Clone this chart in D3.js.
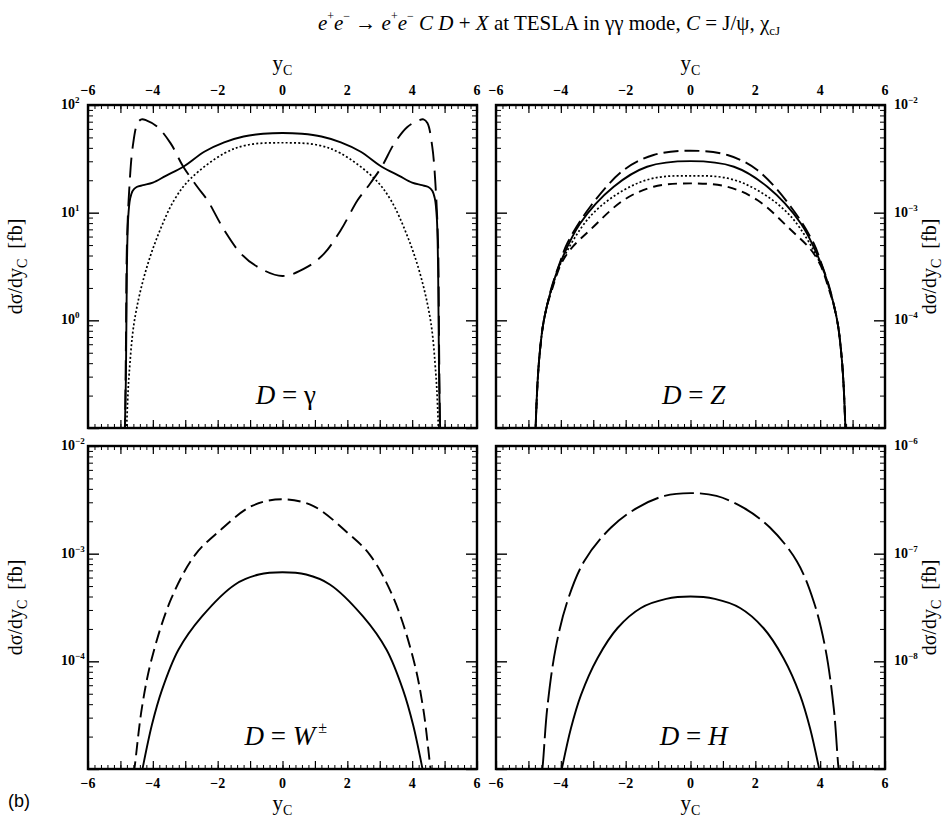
<!DOCTYPE html>
<html>
<head>
<meta charset="UTF-8">
<script src="https://cdn.jsdelivr.net/npm/d3@7"></script>
<style>
  body { margin: 0; background: #fff; }
  text { font-family: "Liberation Serif", "Times New Roman", serif; fill: #000; }
</style>
</head>
<body>
<svg id="chart" width="951" height="818"></svg>
<script>
// ---- data: [y_C, dsigma/dy_C in fb] ----
var gammaSolid = [[-4.87,0.08],[-4.83,0.3],[-4.8,3],[-4.76,9],[-4.7,13.5],[-4.62,16],[-4.5,17.3],[-4.3,18],[-4.0,19],[-3.6,22],[-3.06,26.7],[-2.4,37],[-1.8,45],[-1.2,51],[-0.6,54],[0,55],
  [0.6,54],[1.2,51],[1.8,45],[2.4,37],[3.06,26.7],[3.6,22],[4.0,19],[4.3,18],[4.5,17.3],[4.62,16],[4.7,13.5],[4.76,9],[4.8,3],[4.83,0.3],[4.87,0.08]];
var gammaDashed = [[-4.86,0.08],[-4.83,0.6],[-4.8,5],[-4.73,16],[-4.62,41],[-4.47,68],[-4.35,73.5],[-4.2,72],[-3.86,62.8],[-3.45,44],[-3.06,26.7],[-2.63,17.4],[-2.32,13.1],[-1.8,6.9],[-1.29,4.19],[-0.78,3.15],[0,2.58],
  [0.78,3.15],[1.29,4.19],[1.8,6.9],[2.32,13.1],[2.63,17.4],[3.06,26.7],[3.45,44],[3.86,62.8],[4.2,72],[4.35,73.5],[4.47,68],[4.62,41],[4.73,16],[4.8,5],[4.83,0.6],[4.86,0.08]];
var gammaDotted = [[-4.82,0.08],[-4.77,0.2],[-4.73,0.32],[-4.58,0.94],[-4.27,2.54],[-3.86,5.97],[-3.34,13.1],[-2.83,20.8],[-1.8,35.5],[-1.09,42.5],[0,44.6],
  [1.09,42.5],[1.8,35.5],[2.83,20.8],[3.34,13.1],[3.86,5.97],[4.27,2.54],[4.58,0.94],[4.73,0.32],[4.77,0.2],[4.82,0.08]];

var zSolid = [[-4.79,0.8e-5],[-4.72,2.6e-5],[-4.65,5e-5],[-4.55,9e-5],[-4.42,1.4e-4],[-4.28,2e-4],[-4.02,3.4e-4],[-3.41,7.9e-4],[-2.37,1.74e-3],[-1.34,2.67e-3],[0,3.01e-3],
  [1.34,2.67e-3],[2.37,1.74e-3],[3.41,7.9e-4],[4.02,3.4e-4],[4.28,2e-4],[4.42,1.4e-4],[4.55,9e-5],[4.65,5e-5],[4.72,2.6e-5],[4.79,0.8e-5]];
var zLongDash = [[-4.79,0.8e-5],[-4.72,2.6e-5],[-4.65,5e-5],[-4.55,9e-5],[-4.42,1.4e-4],[-4.28,2.05e-4],[-4.02,3.5e-4],[-3.8,5.2e-4],[-3.1,1.13e-3],[-2.06,2.49e-3],[-1.14,3.43e-3],[0,3.76e-3],
  [1.14,3.43e-3],[2.06,2.49e-3],[3.1,1.13e-3],[3.8,5.2e-4],[4.02,3.5e-4],[4.28,2.05e-4],[4.42,1.4e-4],[4.55,9e-5],[4.65,5e-5],[4.72,2.6e-5],[4.79,0.8e-5]];
var zDotted = [[-4.79,0.8e-5],[-4.72,2.6e-5],[-4.65,5e-5],[-4.55,9e-5],[-4.42,1.4e-4],[-4.28,1.95e-4],[-4.02,3.3e-4],[-3.1,9.2e-4],[-2.06,1.62e-3],[-1.14,2.09e-3],[0,2.2e-3],
  [1.14,2.09e-3],[2.06,1.62e-3],[3.1,9.2e-4],[4.02,3.3e-4],[4.28,1.95e-4],[4.42,1.4e-4],[4.55,9e-5],[4.65,5e-5],[4.72,2.6e-5],[4.79,0.8e-5]];
var zShortDash = [[-4.79,0.8e-5],[-4.72,2.6e-5],[-4.65,5e-5],[-4.55,9e-5],[-4.42,1.38e-4],[-4.28,1.9e-4],[-4.02,3.2e-4],[-3.72,4.5e-4],[-3.1,6.9e-4],[-2.06,1.31e-3],[-1.14,1.74e-3],[0,1.87e-3],
  [1.14,1.74e-3],[2.06,1.31e-3],[3.1,6.9e-4],[3.72,4.5e-4],[4.02,3.2e-4],[4.28,1.9e-4],[4.42,1.38e-4],[4.55,9e-5],[4.65,5e-5],[4.72,2.6e-5],[4.79,0.8e-5]];

var wDashed = [[-4.6,0.9e-5],[-4.57,1e-5],[-4.34,3.66e-5],[-4.03,1.07e-4],[-3.42,3.9e-4],[-2.69,9.8e-4],[-1.97,1.6e-3],[-0.94,2.78e-3],[0,3.2e-3],
  [0.94,2.78e-3],[1.97,1.6e-3],[2.69,9.8e-4],[3.42,3.9e-4],[4.03,1.07e-4],[4.34,3.66e-5],[4.57,1e-5],[4.6,0.9e-5]];
var wSolid = [[-4.35,0.9e-5],[-4.32,1e-5],[-4.03,2.56e-5],[-3.72,5.4e-5],[-3.21,1.28e-4],[-2.49,2.6e-4],[-1.46,5.18e-4],[-0.73,6.4e-4],[0,6.73e-4],
  [0.73,6.4e-4],[1.46,5.18e-4],[2.49,2.6e-4],[3.21,1.28e-4],[3.72,5.4e-5],[4.03,2.56e-5],[4.32,1e-5],[4.35,0.9e-5]];

var hDashed = [[-4.6,0.9e-9],[-4.57,1e-9],[-4.42,3.65e-9],[-4.16,1.32e-8],[-3.8,3.6e-8],[-3.28,8.5e-8],[-2.45,1.75e-7],[-1.63,2.68e-7],[-0.8,3.44e-7],[0,3.65e-7],
  [0.8,3.44e-7],[1.63,2.68e-7],[2.45,1.75e-7],[3.28,8.5e-8],[3.8,3.6e-8],[4.16,1.32e-8],[4.42,3.65e-9],[4.57,1e-9],[4.6,0.9e-9]];
var hSolid = [[-4.0,0.9e-9],[-3.97,1e-9],[-3.69,2.38e-9],[-3.38,4.86e-9],[-2.87,1.07e-8],[-2.25,2.04e-8],[-1.53,3.13e-8],[-0.75,3.8e-8],[0,4.0e-8],
  [0.75,3.8e-8],[1.53,3.13e-8],[2.25,2.04e-8],[2.87,1.07e-8],[3.38,4.86e-9],[3.69,2.38e-9],[3.97,1e-9],[4.0,0.9e-9]];

var xTickLabels = [-6, -4, -2, 0, 2, 4, 6];
var gammaRange = [0.1, 100];
var zRange = [1e-5, 1e-2];
var wRange = [1e-5, 1e-2];
var hRange = [1e-9, 1e-6];

// ---- layout ----
var svg = d3.select("#chart");
var W = 389, H = 323;

var panels = [
  { id: "g", x: 88,  y: 105, domain: gammaRange, side: "left",  xlab: "top",
    label: [["D", "italic"], [" = ", "normal"], ["\u03b3", "normal"]],
    curves: [ { d: gammaSolid, dash: null }, { d: gammaDashed, dash: "20,9" }, { d: gammaDotted, dash: "2,2.2" } ] },
  { id: "z", x: 496, y: 105, domain: zRange, side: "right", xlab: "top",
    label: [["D", "italic"], [" = ", "normal"], ["Z", "italic"]],
    curves: [ { d: zSolid, dash: null }, { d: zLongDash, dash: "15,6" }, { d: zDotted, dash: "2,2.2" }, { d: zShortDash, dash: "9,6" } ] },
  { id: "w", x: 88,  y: 446, domain: wRange, side: "left",  xlab: "bottom",
    label: [["D", "italic"], [" = ", "normal"], ["W", "italic"], ["\u00b1", "sup"]],
    curves: [ { d: wSolid, dash: null }, { d: wDashed, dash: "13,6" } ] },
  { id: "h", x: 496, y: 446, domain: hRange, side: "right", xlab: "bottom",
    label: [["D", "italic"], [" = ", "normal"], ["H", "italic"]],
    curves: [ { d: hSolid, dash: null }, { d: hDashed, dash: "30,6" } ] }
];

function supLabel(sel, exp) {
  sel.append("tspan").text("10");
  sel.append("tspan").attr("dy", -6).attr("font-size", 9).text(exp < 0 ? "\u2212" + (-exp) : String(exp));
}

panels.forEach(function (p) {
  var g = svg.append("g").attr("transform", "translate(" + p.x + "," + p.y + ")");
  var x = d3.scaleLinear().domain([-6, 6]).range([0, W]);
  var y = d3.scaleLog().domain(p.domain).range([H, 0]);

  g.append("clipPath").attr("id", "clip-" + p.id)
    .append("rect").attr("width", W).attr("height", H);

  var line = d3.line()
    .x(function (d) { return x(d[0]); })
    .y(function (d) { return y(d[1]); })
    .curve(d3.curveCatmullRom.alpha(0.5));

  var cg = g.append("g").attr("clip-path", "url(#clip-" + p.id + ")");
  p.curves.forEach(function (c) {
    cg.append("path").attr("d", line(c.d))
      .attr("fill", "none").attr("stroke", "#000")
      .attr("stroke-width", c.dash === "2,2.2" ? 1.7 : 1.9)
      .attr("stroke-dasharray", c.dash);
  });

  // x ticks (inward) on top and bottom
  var minorX = d3.range(-6, 6.001, 0.2).map(function (v) { return +v.toFixed(1); });
  var majorX = d3.range(-6, 7, 1);
  [["bottom", H], ["top", 0]].forEach(function (s) {
    var mk = function () { return s[0] === "bottom" ? d3.axisBottom(x) : d3.axisTop(x); };
    g.append("g").attr("transform", "translate(0," + s[1] + ")")
      .call(mk().tickValues(minorX).tickSize(-4).tickFormat(""))
      .call(function (a) { a.select(".domain").remove(); a.selectAll("line").attr("stroke-width", 1); });
    g.append("g").attr("transform", "translate(0," + s[1] + ")")
      .call(mk().tickValues(majorX).tickSize(-8).tickFormat(""))
      .call(function (a) { a.select(".domain").remove(); a.selectAll("line").attr("stroke-width", 1.2); });
  });

  // y ticks (inward) on left and right
  var e0 = Math.round(Math.log10(p.domain[0])), e1 = Math.round(Math.log10(p.domain[1]));
  var majorY = d3.range(e0, e1 + 1).map(function (e) { return Math.pow(10, e); });
  var minorY = [];
  d3.range(e0, e1).forEach(function (e) {
    for (var k = 2; k <= 9; k++) minorY.push(k * Math.pow(10, e));
  });
  [["left", 0], ["right", W]].forEach(function (s) {
    var mk = function () { return s[0] === "left" ? d3.axisLeft(y) : d3.axisRight(y); };
    g.append("g").attr("transform", "translate(" + s[1] + ",0)")
      .call(mk().tickValues(minorY).tickSize(-5).tickFormat(""))
      .call(function (a) { a.select(".domain").remove(); a.selectAll("line").attr("stroke-width", 1); });
    g.append("g").attr("transform", "translate(" + s[1] + ",0)")
      .call(mk().tickValues(majorY).tickSize(-11).tickFormat(""))
      .call(function (a) { a.select(".domain").remove(); a.selectAll("line").attr("stroke-width", 1.4); });
  });

  // frame
  g.append("rect").attr("width", W).attr("height", H)
    .attr("fill", "none").attr("stroke", "#000").attr("stroke-width", 2.4);

  // x tick labels
  var ly = p.xlab === "top" ? -10 : H + 19;
  g.selectAll(".xl").data(xTickLabels).enter().append("text")
    .attr("x", function (d) { return x(d); }).attr("y", ly)
    .attr("text-anchor", "middle").attr("font-size", 14).attr("font-weight", "bold")
    .text(function (d) { return d < 0 ? "\u2212" + (-d) : d; });

  // x axis title
  var xt = g.append("text").attr("x", x(0)).attr("y", p.xlab === "top" ? -35 : H + 41)
    .attr("text-anchor", "middle").attr("font-size", 21);
  xt.append("tspan").text("y");
  xt.append("tspan").attr("dy", 5).attr("font-size", 14).text("C");

  // y tick labels (skip the bottom decade)
  majorY.slice(1).forEach(function (v) {
    var e = Math.round(Math.log10(v));
    var t = g.append("text").attr("y", y(v) + 4).attr("font-size", 14).attr("font-weight", "bold");
    if (p.side === "left") t.attr("x", -27).attr("text-anchor", "start");
    else t.attr("x", W + 9);
    supLabel(t, e);
  });

  // y axis title
  var cx = p.side === "left" ? -66 : W + 51;
  var yt = g.append("text")
    .attr("transform", "translate(" + cx + "," + (H / 2) + ") rotate(-90)")
    .attr("text-anchor", "middle").attr("font-size", 20);
  yt.append("tspan").text("d\u03c3/dy");
  yt.append("tspan").attr("dy", 5).attr("font-size", 14).text("C");
  yt.append("tspan").attr("dy", -5).text("\u2002[fb]");

  // panel label
  var lt = g.append("text").attr("x", x(0.1)).attr("y", H - 24)
    .attr("text-anchor", "middle").attr("font-size", 27);
  p.label.forEach(function (s) {
    var ts = lt.append("tspan").text(s[0]);
    if (s[1] === "italic") ts.attr("font-style", "italic");
    if (s[1] === "sup") ts.attr("dy", -12).attr("dx", 3).attr("font-size", 16);
  });
});

// ---- title ----
var title = svg.append("text").attr("x", 549).attr("y", 30)
  .attr("text-anchor", "middle").attr("font-size", 21);
var segs = [
  ["e", "i"], ["+", "sup"], ["e", "i"], ["\u2212", "sup"], [" \u2192 ", "n"],
  ["e", "i"], ["+", "sup"], ["e", "i"], ["\u2212", "sup"], [" C D", "i"], [" + ", "n"], ["X", "i"],
  [" at TESLA in \u03b3\u03b3 mode, ", "n"], ["C", "i"], [" = J/\u03c8, \u03c7", "n"], ["cJ", "sub"]
];
var shift = 0;
segs.forEach(function (s) {
  var ts = title.append("tspan").text(s[0]);
  var target = 0;
  if (s[1] === "i") ts.attr("font-style", "italic");
  if (s[1] === "sup") { target = -10; ts.attr("font-size", 12); }
  if (s[1] === "sub") { target = 5; ts.attr("font-size", 13); }
  ts.attr("dy", target - shift);
  shift = target;
});

svg.append("text").attr("x", 8).attr("y", 807)
  .style("font-family", "'Liberation Sans', Arial, sans-serif")
  .attr("font-size", 18).text("(b)");
</script>
</body>
</html>
